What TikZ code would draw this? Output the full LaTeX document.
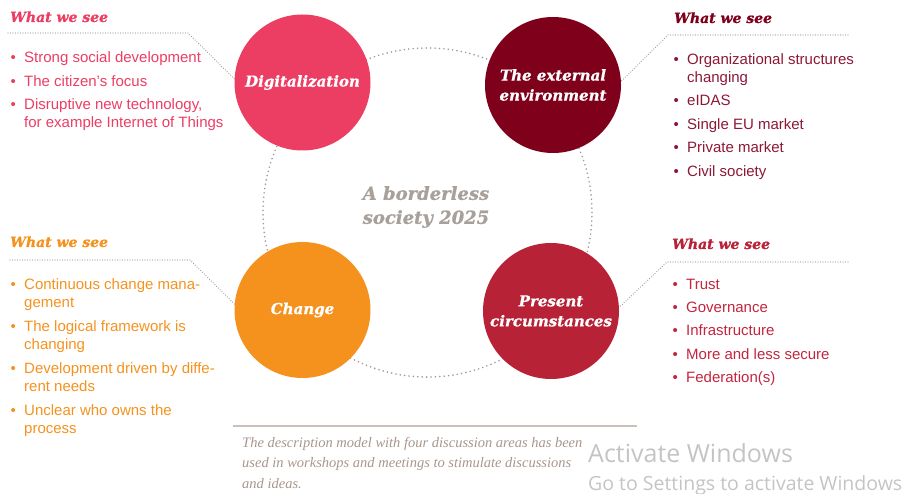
\documentclass[tikz,border=0pt]{standalone}
\usepackage{fontspec}
\setmainfont{Liberation Sans}
\newfontfamily\headfont{DejaVu Serif}[BoldItalicFeatures={FakeBold=0.8}]
\newfontfamily\notefont{Liberation Serif}
\newfontfamily\wmfont{Open Sans}

\definecolor{digc}{HTML}{EC3D63}
\definecolor{extc}{HTML}{7E001B}
\definecolor{extt}{HTML}{8C1838}
\definecolor{chgc}{HTML}{F5921E}
\definecolor{prec}{HTML}{B72236}
\definecolor{pret}{HTML}{C2263F}
\definecolor{hubc}{HTML}{A8A09A}
\definecolor{dotc}{HTML}{9C9C9C}
\definecolor{notec}{HTML}{A8968C}
\definecolor{rulec}{HTML}{CBC0BA}
\definecolor{wmc}{HTML}{C4C4C4}

% list helpers: bullet box, continuation indent, first-line strut
\newcommand\itm{\makebox[13.6pt][l]{\textbullet}}
\newcommand\cont{\hspace*{13.6pt}}
\newcommand\strt{\rule{0pt}{11pt}}

\tikzset{
  bubble/.style={circle, minimum size=136pt, inner sep=0pt, text=white, align=center,
    font=\headfont\bfseries\itshape\fontsize{15}{20}\selectfont},
  ring/.style={circle, draw=dotc, line width=1.8pt, dash pattern=on 0pt off 4.4pt,
    line cap=round, minimum size=329pt, inner sep=0pt},
  leader/.style={draw=dotc, line width=1.25pt, dash pattern=on 0pt off 2.5pt, line cap=round},
  heading/.style={anchor=base west, inner sep=0pt,
    font=\headfont\bfseries\itshape\fontsize{14}{17}\selectfont},
  points/.style={anchor=north west, inner sep=0pt, align=left,
    font=\fontsize{15}{18}\selectfont},
  hub/.style={text=hubc, align=center, inner sep=0pt,
    font=\headfont\bfseries\itshape\fontsize{18}{24}\selectfont},
  note/.style={anchor=north west, inner sep=0pt, align=left, text=notec,
    font=\notefont\itshape\fontsize{14.5}{20.5}\selectfont},
  rulestyle/.style={draw=rulec, line width=1.5pt},
  watermark/.style={anchor=base west, inner sep=0pt, text=wmc}
}

\begin{document}
\begin{tikzpicture}[x=1pt,y=-1pt]
\useasboundingbox (0,0) rectangle (902,494);
\clip (0,0) rectangle (902,494);

% dotted ring behind the four themes
\node[ring] (ring) at (427.5,212.5) {};

% the four themes
\node[bubble, fill=digc] (dig) at (302.5,82.5) {Digitalization};
\node[bubble, fill=extc] (ext) at (553,85) {The external\\environment};
\node[bubble, fill=chgc] (chg) at (302.5,310) {Change};
\node[bubble, fill=prec] (pre) at (551,311) {Present\\circumstances};

\node[hub] (hub) at (426,207) {A borderless\\society 2025};

% top left: digitalization
\node[heading, text=digc] (digHead) at (10,22) {What we see};
\coordinate (digL) at (8,33);
\coordinate (digR) at (188,33);
\draw[leader] (digL) -- (digR) -- (dig.177);
\node[points, text=digc] (digList) at (10.4,51.7)
  {\strt\itm Strong social development\\[5.5pt]
   \itm The citizen’s focus\\[5.5pt]
   \itm Disruptive new technology,\\
   \cont for example Internet of Things};

% top right: external environment
\node[heading, text=extc] (extHead) at (674,23) {What we see};
\coordinate (extL) at (668,35);
\coordinate (extR) at (848,35);
\draw[leader] (extR) -- (extL) -- (ext.3);
\node[points, text=extt] (extList) at (673.4,53)
  {\strt\itm Organizational structures\\
   \cont changing\\[5.5pt]
   \itm eIDAS\\[5.5pt]
   \itm Single EU market\\[5.5pt]
   \itm Private market\\[5.5pt]
   \itm Civil society};

% bottom left: change
\node[heading, text=chgc] (chgHead) at (10,247) {What we see};
\coordinate (chgL) at (10,260);
\coordinate (chgR) at (190,260);
\draw[leader] (chgL) -- (chgR) -- (chg.175);
\node[points, text=chgc] (chgList) at (10.4,278)
  {\strt\itm Continuous change mana-\\
   \cont gement\\[6pt]
   \itm The logical framework is\\
   \cont changing\\[6pt]
   \itm Development driven by diffe-\\
   \cont rent needs\\[6pt]
   \itm Unclear who owns the\\
   \cont process};

% bottom right: present circumstances
\node[heading, text=prec] (preHead) at (672,249) {What we see};
\coordinate (preL) at (667,262);
\coordinate (preR) at (848,262);
\draw[leader] (preR) -- (preL) -- (pre.3);
\node[points, text=pret] (preList) at (672.4,278)
  {\strt\itm Trust\\[5.3pt]
   \itm Governance\\[5.3pt]
   \itm Infrastructure\\[5.3pt]
   \itm More and less secure\\[5.3pt]
   \itm Federation(s)};

% caption
\coordinate (ruleL) at (233,426);
\coordinate (ruleR) at (637,426);
\draw[rulestyle] (ruleL) -- (ruleR);
\node[note] (note) at (242,437)
  {\rule{0pt}{10pt}The description model with four discussion areas has been\\
   used in workshops and meetings to stimulate discussions\\
   and ideas.};

% system overlay text
\node[watermark, font=\wmfont\fontsize{25}{30}\selectfont] (wmA) at (588,462) {Activate Windows};
\node[watermark, font=\wmfont\fontsize{19.5}{24}\selectfont] (wmB) at (588,490) {Go to Settings to activate Windows};
\end{tikzpicture}
\end{document}
